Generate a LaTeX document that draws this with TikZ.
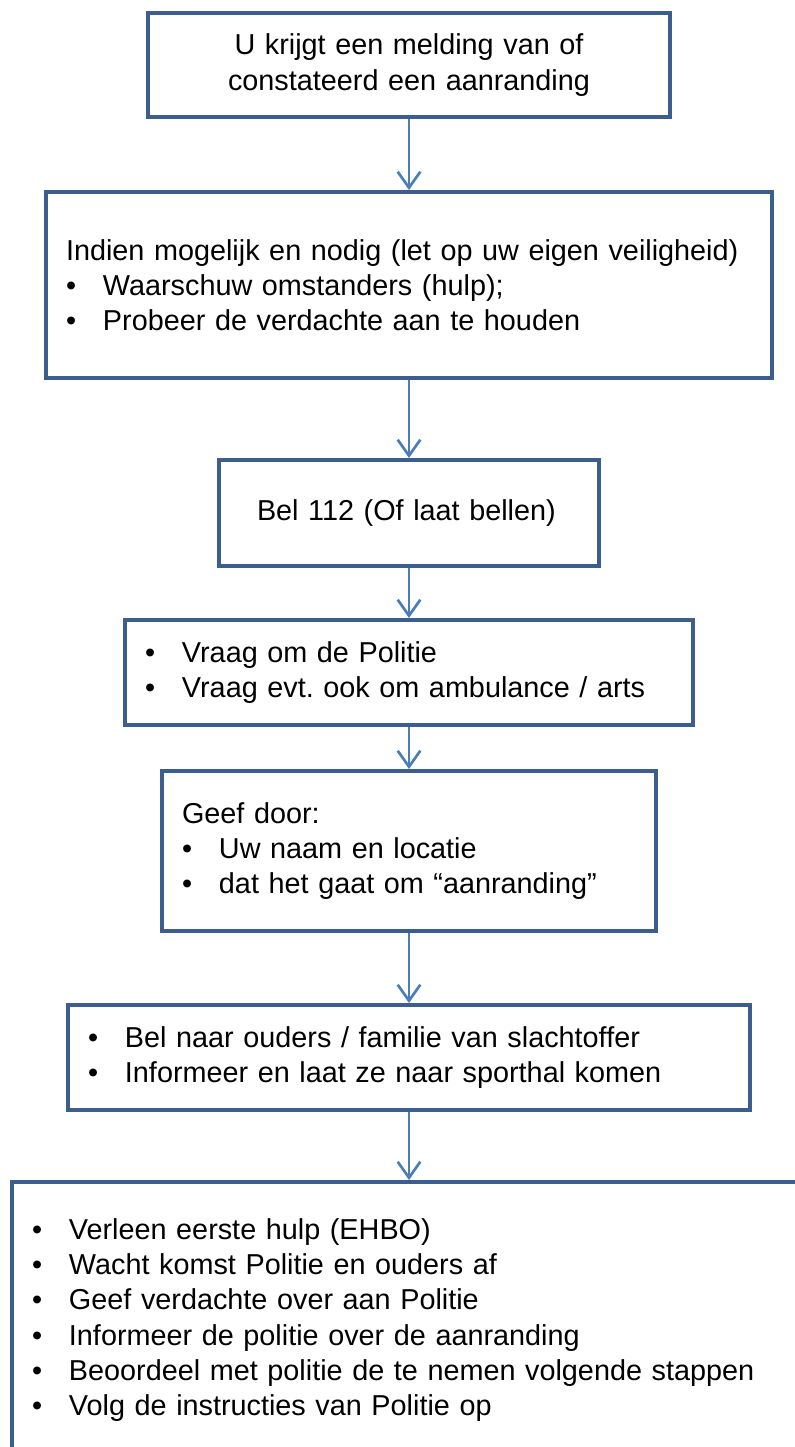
\documentclass[tikz,border=0pt]{standalone}
\usepackage{fontspec}
\setmainfont{Liberation Sans}
\usetikzlibrary{arrows.meta}
\definecolor{randblauw}{HTML}{3B5E8C}
\definecolor{pijlblauw}{HTML}{4A7EBB}
\newcommand{\tekst}{\fontsize{21.6pt}{26.4pt}\selectfont\frenchspacing}
\newcommand{\punt}{\makebox[27.75pt][l]{\textbullet}}
\tikzset{
	stap/.style={draw=randblauw, line width=3pt, fill=white, inner xsep=15pt, align=left, font=\tekst},
	pijl/.style={draw=pijlblauw, line width=2pt, -{Straight Barb[length=12pt,width=17pt]}}
}

\begin{document}
\begin{tikzpicture}[x=0.75pt, y=-0.75pt]
		%%%%% START %%%%%
		
		\useasboundingbox (0, 0) rectangle (795, 1447);
		\clip (0, 0) rectangle (795, 1447);
		\fill[white] (0, 0) rectangle (795, 1447);
		
		\node[stap, align=center, text width=361.5pt, minimum height=78pt] (melding) at (409, 65) {U krijgt een melding van of\\constateerd een aanranding};
		
		\node[stap, text width=514.5pt, minimum height=139.5pt] (actie) at (409, 285) {Indien mogelijk en nodig (let op uw eigen veiligheid)\\\punt Waarschuw omstanders (hulp);\\\punt Probeer de verdachte aan te houden};
		
		\node[stap, inner xsep=28.5pt, text width=228pt, minimum height=79.5pt] (bellen) at (409, 513) {Bel 112 (Of laat bellen)};
		
		\node[stap, text width=396pt, minimum height=78.75pt] (vraag) at (409, 672.5) {\punt Vraag om de Politie\\\punt Vraag evt. ook om ambulance / arts};
		
		\node[stap, text width=340.5pt, minimum height=120pt] (doorgeven) at (409, 851) {Geef door:\\\punt Uw naam en locatie\\\punt dat het gaat om “aanranding”};
		
		\node[stap, text width=481.5pt, minimum height=78.75pt] (ouders) at (409, 1057.5) {\punt Bel naar ouders / familie van slachtoffer\\\punt Informeer en laat ze naar sporthal komen};
		
		\node[stap, text width=565.5pt, minimum height=207pt] (opvang) at (409, 1320) {\punt Verleen eerste hulp (EHBO)\\\punt Wacht komst Politie en ouders af\\\punt Geef verdachte over aan Politie\\\punt Informeer de politie over de aanranding\\\punt Beoordeel met politie de te nemen volgende stappen\\\punt Volg de instructies van Politie op};
		
		\draw[pijl] (melding) -- (actie);
		\draw[pijl] (actie) -- (bellen);
		\draw[pijl] (bellen) -- (vraag);
		\draw[pijl] (vraag) -- (doorgeven);
		\draw[pijl] (doorgeven) -- (ouders);
		\draw[pijl] (ouders) -- (opvang);
		
		%%%%% END %%%%%
\end{tikzpicture}
\end{document}
